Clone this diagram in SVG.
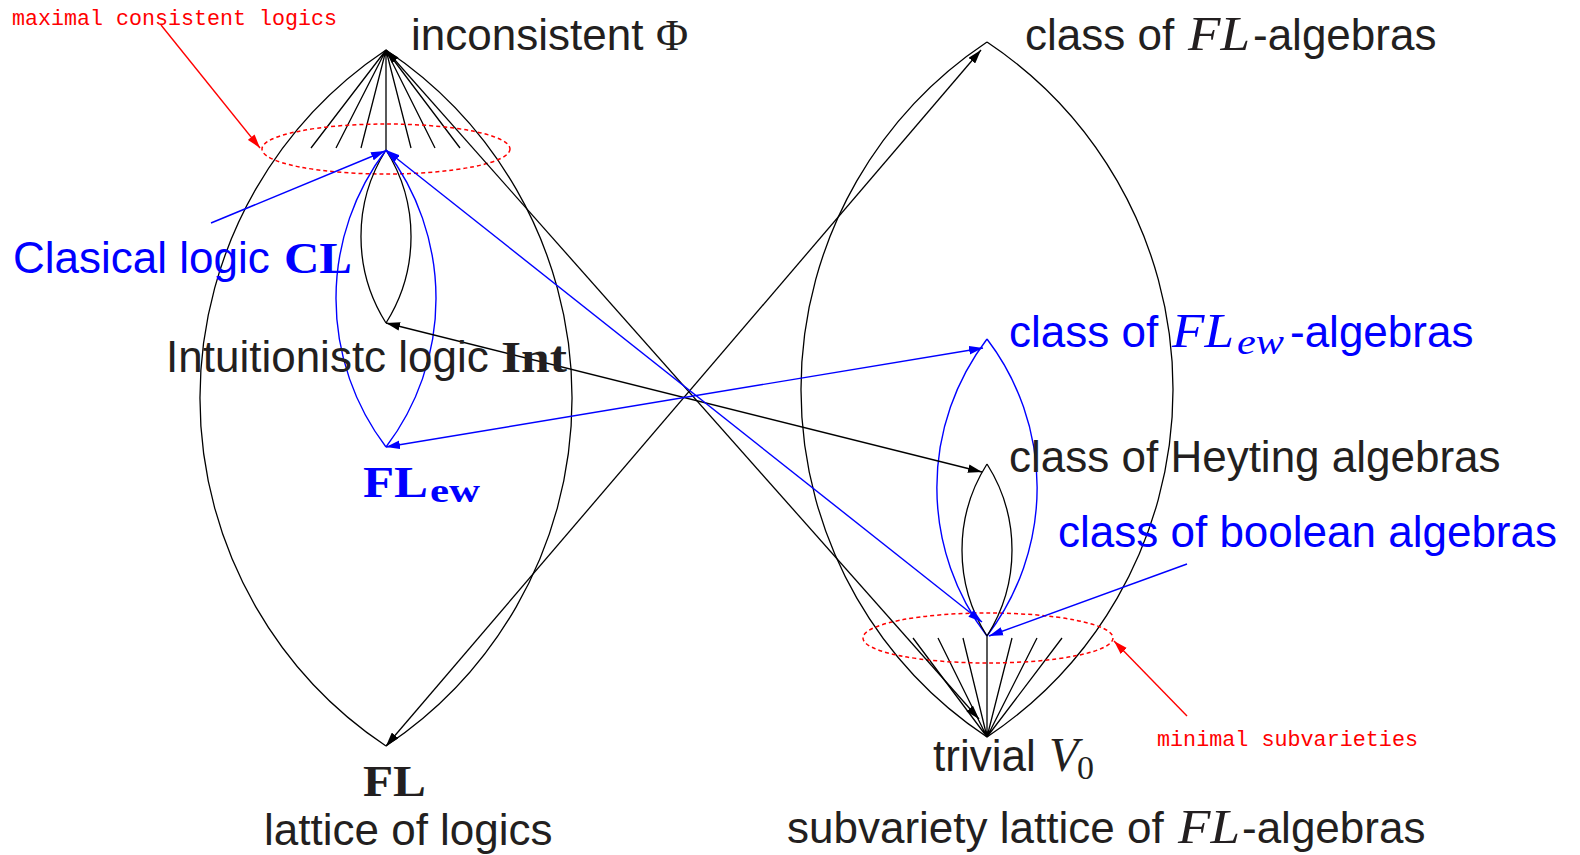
<svg xmlns="http://www.w3.org/2000/svg" width="1580" height="855" viewBox="0 0 1580 855">
<style>
.ln{fill:none;stroke:#000;stroke-width:1.3}
.bl{fill:none;stroke:#0000ff;stroke-width:1.4}
.rd{fill:none;stroke:#ff0000;stroke-width:1.4}
.dot{fill:none;stroke:#ff0000;stroke-width:1.5;stroke-dasharray:4 3}
.t{font-family:"Liberation Sans",Arial,sans-serif;font-size:44px;fill:#231f20}
.tb{fill:#0000ff}
.mi{font-family:"Liberation Serif","Times New Roman",serif;font-style:italic}
.mr{font-family:"Liberation Serif","Times New Roman",serif}
.mb{font-family:"Liberation Serif","Times New Roman",serif;font-weight:bold}
.mono{font-family:"Liberation Mono","Courier New",monospace;font-size:22px;fill:#ff0000}
</style>
<defs>
<marker id="ak" markerUnits="userSpaceOnUse" markerWidth="14" markerHeight="9" refX="13" refY="4" orient="auto-start-reverse" viewBox="0 0 13 8"><path d="M0,0 L13,4 L0,8 z" fill="#000"/></marker>
<marker id="ab" markerUnits="userSpaceOnUse" markerWidth="14" markerHeight="9" refX="13" refY="4" orient="auto-start-reverse" viewBox="0 0 13 8"><path d="M0,0 L13,4 L0,8 z" fill="#0000ff"/></marker>
<marker id="ar" markerUnits="userSpaceOnUse" markerWidth="14" markerHeight="9" refX="13" refY="4" orient="auto-start-reverse" viewBox="0 0 13 8"><path d="M0,0 L13,4 L0,8 z" fill="#ff0000"/></marker>
</defs>
<rect width="1580" height="855" fill="#fff"/>

<g id="left-lattice">
<path class="ln" d="M386,50 A418.5,418.5 0 0 0 386,746 M386,50 A418.5,418.5 0 0 1 386,746"/>
<path class="ln" d="M386,50 L311,148 M386,50 L336,148 M386,50 L361,148 M386,50 L386,150 M386,50 L411,148 M386,50 L435,148 M386,50 L460,148"/>
<ellipse class="dot" cx="386" cy="149" rx="124" ry="25"/>
</g>
<g id="cl-int-lens">
<path class="ln" d="M386,150 A162,162 0 0 0 386,323 M386,150 A162,162 0 0 1 386,323"/>
</g>
<g id="cl-flew-lens">
<path class="bl" d="M386,150 A245.5,245.5 0 0 0 386,447 M386,150 A245.5,245.5 0 0 1 386,447"/>
</g>

<g id="right-lattice">
<path class="ln" d="M987,42 A417.6,417.6 0 0 0 987,737 M987,42 A417.6,417.6 0 0 1 987,737"/>
<path class="ln" d="M987,737 L913,638 M987,737 L938,638 M987,737 L963,638 M987,737 L987,636 M987,737 L1012,638 M987,737 L1037,638 M987,737 L1062,638"/>
<ellipse class="dot" cx="988" cy="638" rx="125" ry="25"/>
</g>
<g id="flew-alg-lens">
<path class="bl" d="M987,339 A245,245 0 0 0 987,636 M987,339 A245,245 0 0 1 987,636"/>
</g>
<g id="heyting-lens">
<path class="ln" d="M987,464 A160.4,160.4 0 0 0 987,636 M987,464 A160.4,160.4 0 0 1 987,636"/>
</g>

<g id="connectors">
<line class="ln" x1="386" y1="50" x2="979" y2="719" marker-start="url(#ak)" marker-end="url(#ak)"/>
<line class="ln" x1="386" y1="746" x2="981" y2="50" marker-start="url(#ak)" marker-end="url(#ak)"/>
<line class="ln" x1="386" y1="323" x2="982" y2="472" marker-start="url(#ak)" marker-end="url(#ak)"/>
<line class="bl" x1="386" y1="447" x2="983" y2="348" marker-start="url(#ab)" marker-end="url(#ab)"/>
<line class="bl" x1="386" y1="150" x2="982" y2="622" marker-start="url(#ab)" marker-end="url(#ab)"/>
<line class="rd" x1="161" y1="25" x2="260" y2="148" marker-end="url(#ar)"/>
<line class="rd" x1="1187" y1="716" x2="1114" y2="641" marker-end="url(#ar)"/>
<line class="bl" x1="211" y1="223" x2="385" y2="151" marker-end="url(#ab)"/>
<line class="bl" x1="1187" y1="564" x2="989" y2="636" marker-end="url(#ab)"/>
</g>

<g id="label-maximal"><text class="mono" x="12" y="25" textLength="325" lengthAdjust="spacingAndGlyphs">maximal consistent logics</text></g>
<g id="label-minimal"><text class="mono" x="1157" y="746" textLength="261" lengthAdjust="spacingAndGlyphs">minimal subvarieties</text></g>
<g id="node-inconsistent"><text class="t" x="411" y="50">inconsistent <tspan class="mr" x="656">Φ</tspan></text></g>
<g id="node-cl"><text class="t tb" x="13" y="273">Clasical logic <tspan class="mb" x="284" textLength="68" lengthAdjust="spacingAndGlyphs">CL</tspan></text></g>
<g id="node-int"><text class="t" x="166" y="372">Intuitionistc logic <tspan class="mb" x="501" textLength="66" lengthAdjust="spacingAndGlyphs">Int</tspan></text></g>
<g id="node-flew"><text class="t tb mb" x="363" y="497"><tspan textLength="65" lengthAdjust="spacingAndGlyphs">FL</tspan><tspan x="430" y="502" font-size="34" textLength="50" lengthAdjust="spacingAndGlyphs">ew</tspan></text></g>
<g id="node-fl"><text class="t mb" x="363" y="796" textLength="63" lengthAdjust="spacingAndGlyphs">FL</text></g>
<g id="label-lattice-logics"><text class="t" x="264" y="845">lattice of logics</text></g>
<g id="node-fl-algebras"><text class="t" x="1025" y="50">class of <tspan class="mi" x="1188" font-size="48" textLength="62" lengthAdjust="spacingAndGlyphs">FL</tspan><tspan x="1253">-algebras</tspan></text></g>
<g id="node-flew-algebras"><text class="t tb" x="1009" y="347">class of <tspan class="mi" x="1172" font-size="48" textLength="62" lengthAdjust="spacingAndGlyphs">FL</tspan><tspan class="mi" x="1237" y="354" font-size="36" textLength="47" lengthAdjust="spacingAndGlyphs">ew</tspan><tspan x="1290" y="347">-algebras</tspan></text></g>
<g id="node-heyting"><text class="t" x="1009" y="472">class of Heyting algebras</text></g>
<g id="node-boolean"><text class="t tb" x="1058" y="547">class of boolean algebras</text></g>
<g id="node-trivial"><text class="t" x="933" y="771">trivial <tspan class="mi" x="1049" font-size="48">V</tspan><tspan class="mr" x="1077" y="779" font-size="34">0</tspan></text></g>
<g id="label-subvariety"><text class="t" x="787" y="843">subvariety lattice of <tspan class="mi" x="1178" font-size="48" textLength="62" lengthAdjust="spacingAndGlyphs">FL</tspan><tspan x="1242">-algebras</tspan></text></g>
</svg>
